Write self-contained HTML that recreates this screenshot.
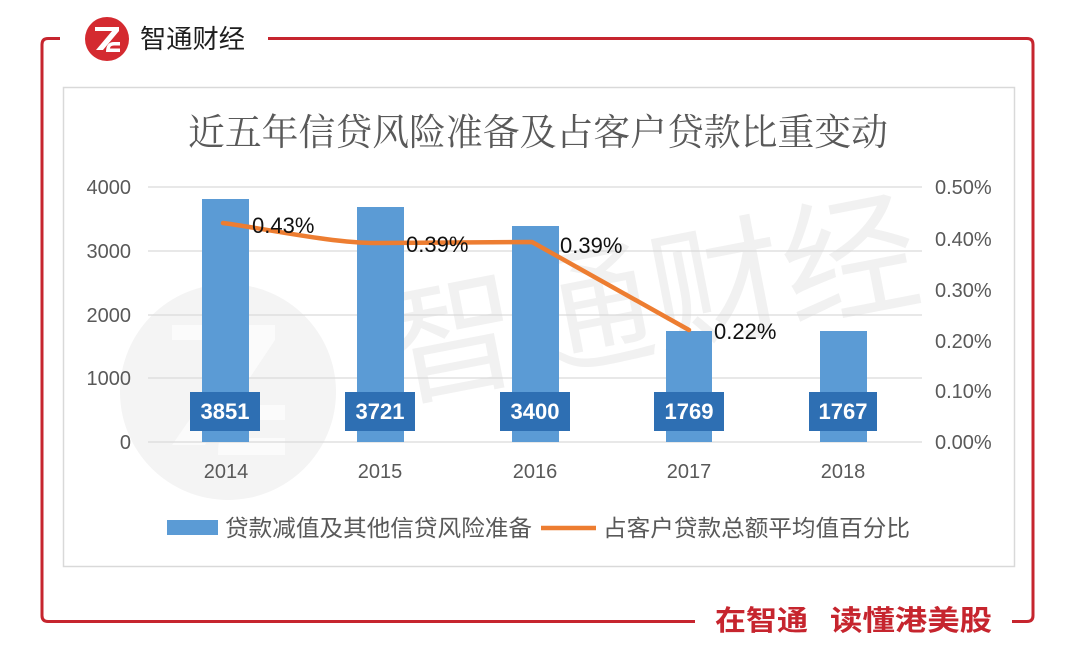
<!DOCTYPE html>
<html>
<head>
<meta charset="utf-8">
<style>
html,body{margin:0;padding:0;background:#fff;}
svg{display:block;}
</style>
</head>
<body>
<svg width="1080" height="647" viewBox="0 0 1080 647" xmlns="http://www.w3.org/2000/svg">
  <rect x="0" y="0" width="1080" height="647" fill="#ffffff"/>

  <!-- red frame -->
  <g fill="none" stroke="#c6252e" stroke-width="3" stroke-linecap="butt">
    <path d="M60,38.5 L48,38.5 Q42,38.5 42,44.5 L42,615.5 Q42,621.5 48,621.5 L695,621.5"/>
    <path d="M268,38.5 L1027,38.5 Q1033,38.5 1033,44.5 L1033,615.5 Q1033,621.5 1027,621.5 L1012,621.5"/>
  </g>

  <!-- logo -->
  <circle cx="107" cy="39" r="22" fill="#d42a30"/>
  <path d="M95,27 H119 V31 L103,50 H96 L112,31 H95 Z" fill="#ffffff"/>
  <path d="M106,52 Q106,42 114,42 H120 V45.5 H114 Q110,45.5 110,48.5 H120 V52 Z" fill="#ffffff"/>
  <text x="140" y="48" font-family="'Liberation Sans','Noto Sans CJK SC',sans-serif" font-size="26" fill="#1e1e1e" textLength="105" lengthAdjust="spacingAndGlyphs">智通财经</text>

  <!-- footer slogan -->
  <text x="715" y="630" font-family="'Liberation Sans','Noto Sans CJK SC',sans-serif" font-size="28" font-weight="bold" fill="#c6252e" textLength="93" lengthAdjust="spacingAndGlyphs">在智通</text>
  <text x="830" y="630" font-family="'Liberation Sans','Noto Sans CJK SC',sans-serif" font-size="28" font-weight="bold" fill="#c6252e" textLength="162" lengthAdjust="spacingAndGlyphs">读懂港美股</text>

  <!-- chart box -->
  <rect x="63.5" y="87.5" width="951" height="479" fill="#ffffff" stroke="#d9d9d9" stroke-width="1.5"/>

  <!-- watermark -->
  <circle cx="228" cy="392" r="108" fill="#f4f4f4"/>
  <path d="M172,325 H275 V340 L205,445 H172 L245,340 H172 Z" fill="#fbfbfb"/>
  <path d="M218,455 Q218,405 262,405 H285 V420 H262 Q240,420 240,438 H285 V455 Z" fill="#fbfbfb"/>
  <text x="395" y="398" transform="rotate(-11 395 398)" font-family="'Liberation Sans','Noto Sans CJK SC',sans-serif" font-size="135" fill="#f1f1f1" textLength="540" lengthAdjust="spacingAndGlyphs">智通财经</text>

  <!-- title -->
  <text x="188" y="145" font-family="'Liberation Serif','Noto Serif CJK SC',serif" font-size="37" fill="#595959" textLength="700" lengthAdjust="spacingAndGlyphs">近五年信贷风险准备及占客户贷款比重变动</text>

  <!-- gridlines -->
  <g stroke="#d9d9d9" stroke-width="1.3">
    <line x1="148" y1="187" x2="922" y2="187"/>
    <line x1="148" y1="251" x2="922" y2="251"/>
    <line x1="148" y1="315" x2="922" y2="315"/>
    <line x1="148" y1="378" x2="922" y2="378"/>
    <line x1="148" y1="442" x2="922" y2="442"/>
  </g>

  <!-- left axis labels -->
  <g font-family="'Liberation Sans',sans-serif" font-size="20" fill="#595959" text-anchor="end">
    <text x="131" y="194">4000</text>
    <text x="131" y="258">3000</text>
    <text x="131" y="322">2000</text>
    <text x="131" y="385">1000</text>
    <text x="131" y="449">0</text>
  </g>
  <!-- right axis labels -->
  <g font-family="'Liberation Sans',sans-serif" font-size="20" fill="#595959">
    <text x="935" y="194">0.50%</text>
    <text x="935" y="246">0.40%</text>
    <text x="935" y="297">0.30%</text>
    <text x="935" y="348">0.20%</text>
    <text x="935" y="398">0.10%</text>
    <text x="935" y="449">0.00%</text>
  </g>

  <!-- bars -->
  <g fill="#5b9bd5">
    <rect x="202" y="199" width="47" height="243"/>
    <rect x="357" y="207" width="47" height="235"/>
    <rect x="512" y="226" width="47" height="216"/>
    <rect x="666" y="331" width="46" height="111"/>
    <rect x="820" y="331" width="47" height="111"/>
  </g>

  <!-- bar value boxes -->
  <g fill="#2e6fb3">
    <rect x="190" y="392" width="70" height="39"/>
    <rect x="345" y="392" width="70" height="39"/>
    <rect x="500" y="392" width="70" height="39"/>
    <rect x="654" y="392" width="70" height="39"/>
    <rect x="809" y="392" width="68" height="39"/>
  </g>
  <g font-family="'Liberation Sans',sans-serif" font-size="22" font-weight="bold" fill="#ffffff" text-anchor="middle">
    <text x="225" y="419">3851</text>
    <text x="380" y="419">3721</text>
    <text x="535" y="419">3400</text>
    <text x="689" y="419">1769</text>
    <text x="843" y="419">1767</text>
  </g>

  <!-- line series -->
  <path d="M223,223 C262,228 335,244 380,243 L532,242 L689,330" fill="none" stroke="#ed7d31" stroke-width="4.5" stroke-linejoin="round" stroke-linecap="round"/>

  <!-- line labels -->
  <g font-family="'Liberation Sans',sans-serif" font-size="22" fill="#111111">
    <text x="252" y="233">0.43%</text>
    <text x="406" y="252">0.39%</text>
    <text x="560" y="253">0.39%</text>
    <text x="714" y="339">0.22%</text>
  </g>

  <!-- category labels -->
  <g font-family="'Liberation Sans',sans-serif" font-size="20" fill="#595959" text-anchor="middle">
    <text x="226" y="478">2014</text>
    <text x="380" y="478">2015</text>
    <text x="535" y="478">2016</text>
    <text x="689" y="478">2017</text>
    <text x="843" y="478">2018</text>
  </g>

  <!-- legend -->
  <rect x="167" y="520" width="51" height="15" fill="#5b9bd5"/>
  <text x="225" y="536" font-family="'Liberation Sans','Noto Sans CJK SC',sans-serif" font-size="23" fill="#595959" textLength="307" lengthAdjust="spacingAndGlyphs">贷款减值及其他信贷风险准备</text>
  <line x1="541" y1="528" x2="596" y2="528" stroke="#ed7d31" stroke-width="4.5"/>
  <text x="603" y="536" font-family="'Liberation Sans','Noto Sans CJK SC',sans-serif" font-size="23" fill="#595959" textLength="307" lengthAdjust="spacingAndGlyphs">占客户贷款总额平均值百分比</text>
</svg>
</body>
</html>
